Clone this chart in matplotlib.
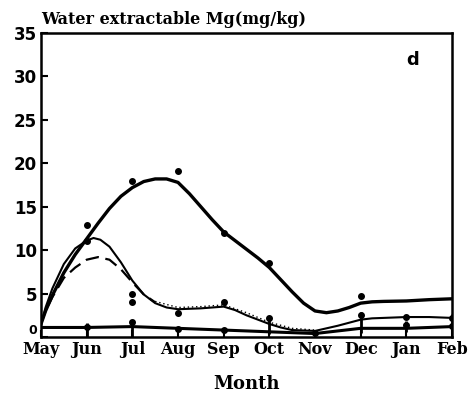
import matplotlib.pyplot as plt

months = ["May", "Jun", "Jul", "Aug", "Sep", "Oct", "Nov", "Dec", "Jan", "Feb"]

# smooth fitted curves (x = month index)
thick_x = [0, 0.1, 0.25, 0.5, 0.75, 1, 1.25, 1.5, 1.75, 2, 2.25, 2.5, 2.75, 3, 3.25, 3.5, 3.75, 4, 4.25, 4.5, 4.75,
           5, 5.25, 5.5, 5.75, 6, 6.25, 6.5, 6.75, 7, 7.25, 7.5, 8, 8.5, 9]
thick_y = [1.5, 3.0, 4.8, 7.4, 9.5, 11.3, 13.1, 14.8, 16.2, 17.2, 17.9, 18.2, 18.2, 17.8, 16.5, 15.0, 13.5, 12.1, 11.1, 10.1, 9.1,
           8.0, 6.6, 5.2, 3.9, 3.0, 2.8, 3.0, 3.4, 3.9, 4.05, 4.1, 4.15, 4.3, 4.4]

thin_x = [0, 0.1, 0.25, 0.5, 0.75, 1, 1.15, 1.3, 1.5, 1.75, 2, 2.25, 2.5, 2.75, 3, 3.5, 4, 4.25, 4.5, 4.75, 5, 5.25, 5.5, 6, 6.5, 7, 7.25, 7.5, 8, 8.5, 9]
thin_y = [1.5, 3.4, 5.6, 8.4, 10.2, 11.1, 11.4, 11.2, 10.4, 8.6, 6.5, 4.9, 3.9, 3.4, 3.2, 3.3, 3.5, 3.1, 2.5, 2.0, 1.5, 1.1, 0.8, 0.7, 1.3, 2.0, 2.15, 2.2, 2.3, 2.3, 2.2]

dash_x = [0, 0.1, 0.25, 0.5, 0.75, 1, 1.25, 1.5, 1.75, 2, 2.25, 2.5]
dash_y = [1.5, 3.0, 4.6, 6.8, 8.0, 8.9, 9.2, 8.9, 7.8, 6.3, 4.9, 4.0]

dot_x = [2.5, 3, 3.5, 4, 4.5, 5, 5.5, 6]
dot_y = [4.1, 3.4, 3.5, 3.7, 2.8, 1.7, 1.0, 0.8]

base_x = [0, 1, 2, 3, 4, 5, 6, 7, 8, 9]
base_y = [1.1, 1.1, 1.2, 1.0, 0.8, 0.6, 0.4, 1.0, 1.0, 1.2]

# measured points
pt_x = [1, 2, 3, 4, 5, 7, 1, 2, 2, 3, 4, 5, 6, 7, 8, 8, 9, 9, 1, 2, 3, 4]
pt_y = [12.9, 18.0, 19.1, 12.0, 8.5, 4.7, 11.0, 5.0, 4.0, 2.8, 4.0, 2.2, 0.5, 2.5, 2.3, 1.4, 2.2, 1.3, 1.2, 1.7, 0.9, 0.8]
# vertical error bars: month index, low, high
err_x = [1, 2, 5, 7, 8, 9]
err_lo = [0.0, 0.0, 0.4, 0.5, 0.6, 0.8]
err_hi = [1.6, 2.0, 2.3, 2.9, 1.8, 2.6]

fig = plt.figure(figsize=(4.75, 4.04), dpi=100)
ax = fig.add_axes([0.0863, 0.1658, 0.8653, 0.7525])

kw = dict(color="black", solid_joinstyle="round", solid_capstyle="round")
ax.plot(thick_x, thick_y, lw=2.4, **kw)
ax.plot(thin_x, thin_y, lw=1.5, **kw)
ax.plot(dash_x, dash_y, color="black", lw=1.6, dashes=(6, 3))
ax.plot(dot_x, dot_y, color="black", lw=1.0, dashes=(1, 2))
ax.plot(base_x, base_y, lw=2.2, **kw)

ax.vlines(err_x, err_lo, err_hi, color="black", lw=2)
ax.plot(pt_x, pt_y, "o", color="black", ms=4)

ax.set_xlim(0, 9)
ax.set_ylim(0, 35)
ax.set_xticks(range(len(months)))
ax.set_xticklabels(months, family="DejaVu Serif", fontweight="bold", fontsize=11.5)
ax.set_yticks(range(0, 36, 5))
ax.set_yticklabels([str(v) for v in range(0, 36, 5)], fontweight="bold", fontsize=12)
ax.tick_params(axis="both", direction="in", length=5, width=1.5, pad=3)
ax.tick_params(axis="x", pad=3)
zero = ax.get_yticklabels()[0]
zero.set_fontsize(9)
zero.set_verticalalignment("bottom")
for s in ax.spines.values():
    s.set_linewidth(1.8)

ax.text(0.0, 1.015, "Water extractable Mg(mg/kg)", transform=ax.transAxes,
        family="DejaVu Serif", fontweight="bold", fontsize=11.5, ha="left", va="bottom")
ax.text(0.905, 0.91, "d", transform=ax.transAxes, fontweight="bold", fontsize=13, ha="center", va="center")
ax.set_xlabel("Month", family="DejaVu Serif", fontweight="bold", fontsize=13, labelpad=12)

fig.savefig("out.png", dpi=100)
